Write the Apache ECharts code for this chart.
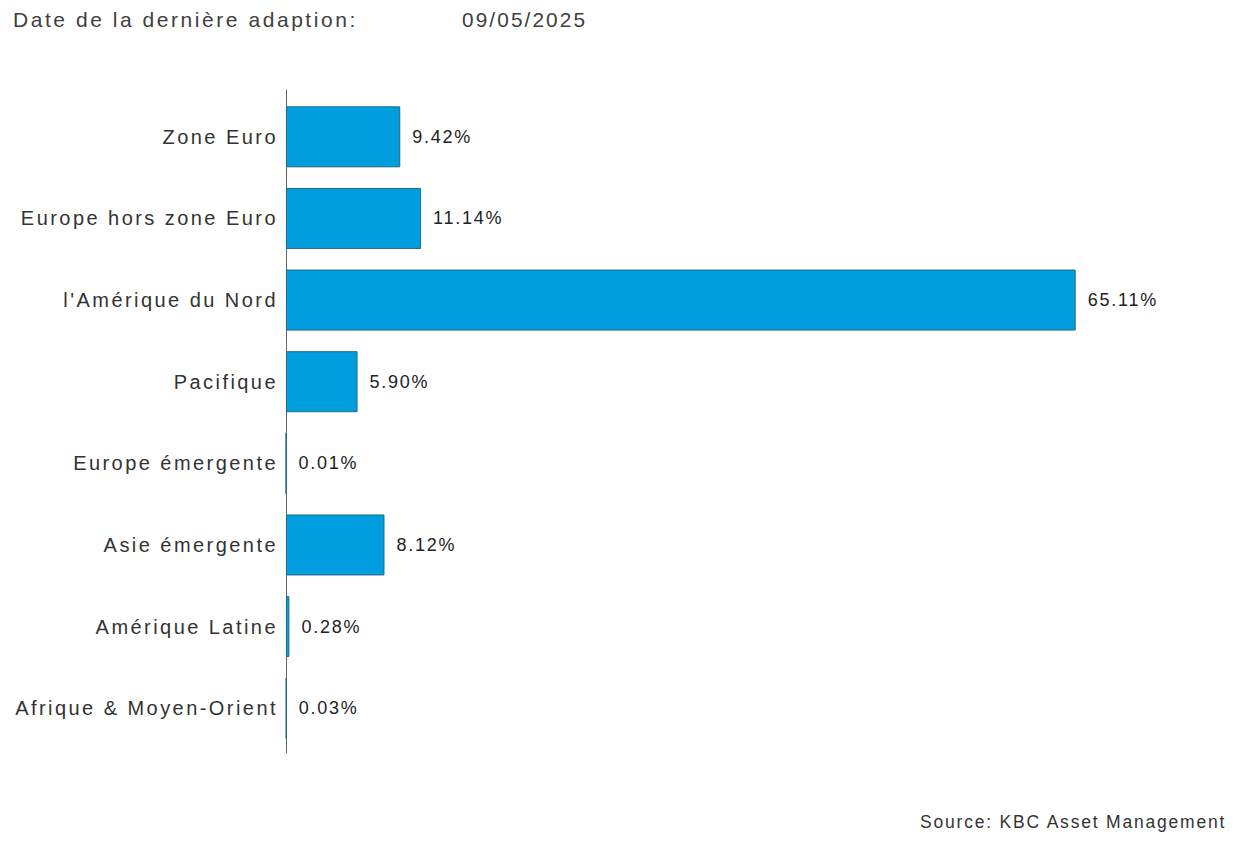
<!DOCTYPE html>
<html>
<head>
<meta charset="utf-8">
<script src="https://cdn.jsdelivr.net/npm/echarts@6/dist/echarts.min.js"></script>
<style>
html,body{margin:0;padding:0;background:#fff;}
#chart{width:1250px;height:850px;}
#chart text[style*="21px"]{letter-spacing:2.55px;}
#chart text[style*="20.8px"]{letter-spacing:2.1px;}
#chart text[style*="20px"]{letter-spacing:2.45px;}
#chart text[style*="18px"]{letter-spacing:1.75px;}
#chart text[style*="17.5px"]{letter-spacing:1.8px;}
</style>
</head>
<body>
<div id="chart"></div>
<script>
const categories = ["Zone Euro","Europe hors zone Euro","l'Amérique du Nord","Pacifique","Europe émergente","Asie émergente","Amérique Latine","Afrique & Moyen-Orient"];
const values = [9.42, 11.14, 65.11, 5.90, 0.01, 8.12, 0.28, 0.03];
const titleText = "Date de la dernière adaption:";
const dateText = "09/05/2025";
const sourceText = "Source: KBC Asset Management";

const FONT = "'Liberation Sans', Arial, sans-serif";
const chart = echarts.init(document.getElementById('chart'), null, {renderer:'svg'});
chart.setOption({
  animation: false,
  backgroundColor: '#ffffff',
  title: [
    {text: titleText, left: 13, top: 9, padding: 0, textStyle:{fontFamily:FONT, fontSize:21, fontWeight:'normal', color:'#404040'}},
    {text: dateText, left: 462, top: 9, padding: 0, textStyle:{fontFamily:FONT, fontSize:20.8, fontWeight:'normal', color:'#404040'}},
    {text: sourceText, left: 920, top: 813, padding: 0, textStyle:{fontFamily:FONT, fontSize:17.5, fontWeight:'normal', color:'#333'}}
  ],
  grid: [
    {left: 286, right: 115, top: 96, bottom: 101, containLabel: false},
    {left: 286, right: 115, top: 90, bottom: 97, containLabel: false}
  ],
  xAxis: [
    {type:'value', gridIndex:0, min:0, max:70, show:false},
    {type:'value', gridIndex:1, min:0, max:70, show:false}
  ],
  yAxis: [
    {type:'category', gridIndex:0, data:categories, inverse:true,
     axisLine:{show:false}, axisTick:{show:false},
     axisLabel:{fontFamily:FONT, fontSize:20, color:'#333', margin:8, padding:[0,0,4,0]}},
    {type:'value', gridIndex:1, min:0, max:1,
     axisLine:{show:true, lineStyle:{color:'#666', width:1}},
     axisTick:{show:false}, axisLabel:{show:false}, splitLine:{show:false}}
  ],
  series: [{
    type:'bar', xAxisIndex:0, yAxisIndex:0,
    data: values,
    barWidth: 61,
    itemStyle:{color:'#009ddf', borderColor:'#236b85', borderWidth:1},
    label:{show:true, position:'right', distance:12, fontFamily:FONT, fontSize:18, color:'#222',
      formatter: p => p.value.toFixed(2) + '%'}
  }]
});
</script>
</body>
</html>
